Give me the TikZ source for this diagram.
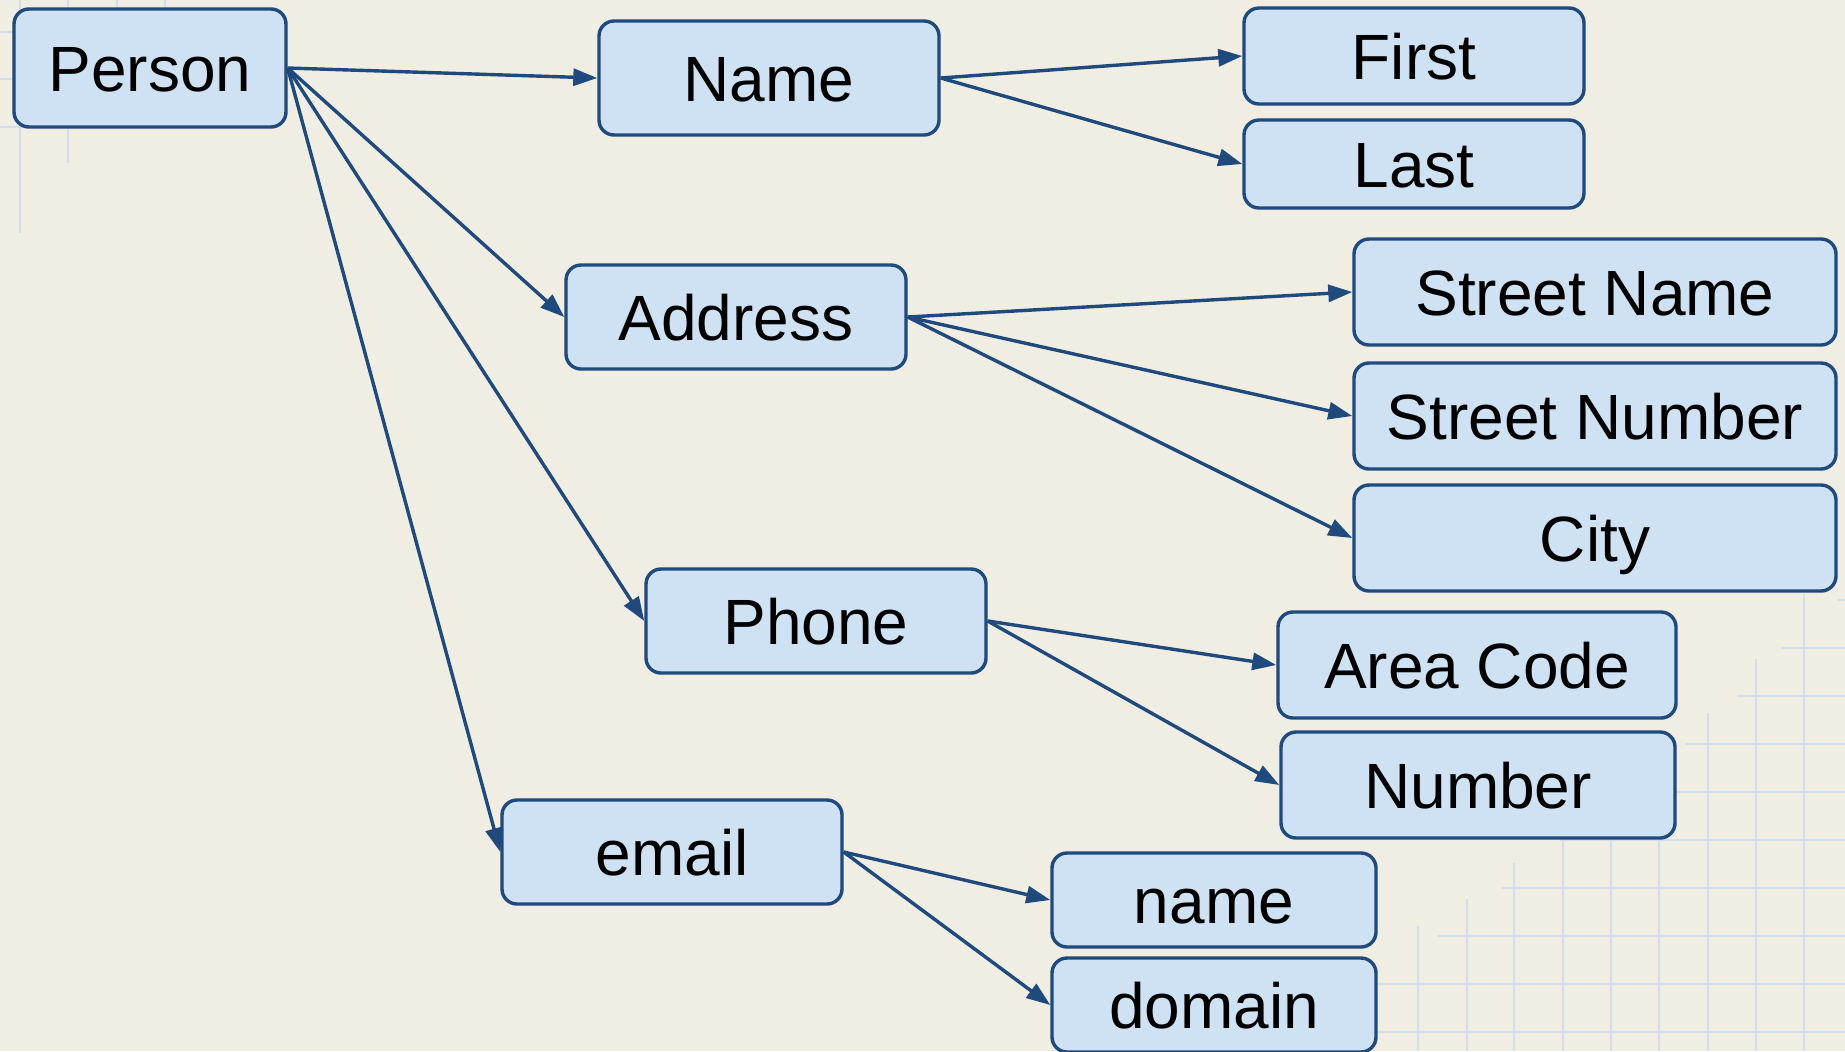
\documentclass[tikz,border=0pt]{standalone}
\usepackage{fontspec}
\setmainfont{Liberation Sans}
\usetikzlibrary{arrows.meta}

\definecolor{edgeblue}{HTML}{1F4A7E}
\definecolor{boxblue}{HTML}{CFE2F3}
\definecolor{paper}{HTML}{F0EDE2}
\definecolor{gridblue}{HTML}{D2DEEA}

\tikzset{
    field/.style={draw=edgeblue, line width=1.7pt, fill=boxblue,
        rounded corners=7.5pt, inner sep=0pt, text height=23pt,
        text depth=0pt, font=\fontsize{32}{38}\selectfont,
        minimum width=170pt, minimum height=52pt},
    link/.style={edgeblue, line width=1.7pt,
        -{Triangle[length=12pt, width=8.5pt]}},
}

\newcommand{\papergrid}{%
    \begin{scope}[gridblue, line width=1pt]
        % top left corner
        \foreach \x/\len in {20/233, 68/163, 117/110, 165/60}{
            \draw (\x, 0) -- (\x, \len);
        }
        \foreach \y/\len in {32/200, 79/150, 127/100}{
            \draw (0, \y) -- (\len, \y);
        }
        % bottom right corner
        \foreach \x/\top in {1418/926, 1467/899, 1514/863, 1563/820,
            1611/790, 1659/750, 1708/713, 1756/659, 1804/594}{
            \draw (\x, \top) -- (\x, 1051);
        }
        \foreach \y/\start in {600/1838, 648/1781, 696/1737, 744/1685,
            792/1620, 840/1560, 888/1502, 936/1438, 984/1377, 1032/1320}{
            \draw (\start, \y) -- (1845, \y);
        }
    \end{scope}}

\begin{document}
\begin{tikzpicture}[x=0.5pt, y=-0.5pt]
        \fill[paper] (0, 0) rectangle (1845, 1051);
        \useasboundingbox (0, 0) rectangle (1845, 1051);
        \papergrid

        \node[field, minimum width=136pt, minimum height=59pt] (person)
            at (150, 68) {Person};

        \node[field, minimum height=57pt] (name) at (769, 78) {Name};
        \node[field, minimum height=52pt] (address) at (736, 317) {Address};
        \node[field, minimum height=52pt] (phone) at (816, 621) {Phone};
        \node[field, minimum height=52pt] (email) at (672, 852) {email};

        \node[field, minimum height=48pt] (first) at (1414, 56) {First};
        \node[field, minimum height=44pt] (last) at (1414, 164) {Last};

        \foreach \id/\y/\txt in
            {street/292/Street Name, streetno/416/Street Number, city/538/City}{
            \node[field, minimum width=241pt, minimum height=53pt] (\id)
                at (1595, \y) {\txt};
        }

        \node[field, minimum width=199pt, minimum height=53pt] (areacode)
            at (1477, 665) {Area Code};
        \node[field, minimum width=197pt, minimum height=53pt] (number)
            at (1478, 785) {Number};

        \node[field, minimum width=162pt, minimum height=47pt] (username)
            at (1214, 900) {name};
        \node[field, minimum width=162pt, minimum height=47pt] (domain)
            at (1214, 1005) {domain};

        \foreach \from/\to in {person/name, person/address, person/phone,
            person/email, name/first, name/last, address/street,
            address/streetno, address/city, phone/areacode, phone/number,
            email/username, email/domain}{
            \draw[link] (\from.east) -- (\to.west);
        }
    \end{tikzpicture}
\end{document}
